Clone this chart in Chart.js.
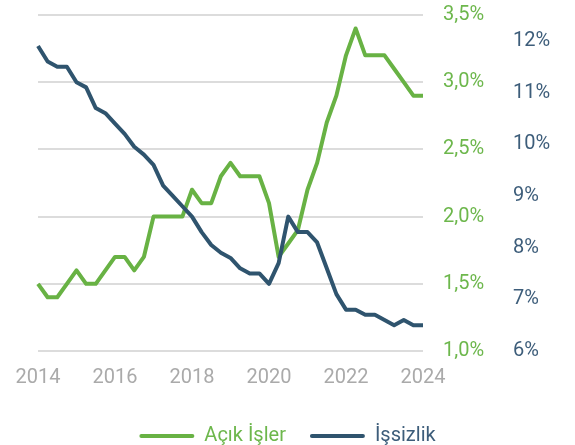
<!DOCTYPE html>
<html>
<head>
<meta charset="utf-8">
<script src="https://cdn.jsdelivr.net/npm/chart.js@4.4.1/dist/chart.umd.min.js"></script>
<style>
  html, body { margin: 0; padding: 0; background: #ffffff; }
  #wrap { width: 575px; height: 445px; }
</style>
</head>
<body>
<div id="wrap"><canvas id="chart"></canvas></div>
<script>
const quarters = [
  "2014-Q1", "2014-Q2", "2014-Q3", "2014-Q4",
  "2015-Q1", "2015-Q2", "2015-Q3", "2015-Q4",
  "2016-Q1", "2016-Q2", "2016-Q3", "2016-Q4",
  "2017-Q1", "2017-Q2", "2017-Q3", "2017-Q4",
  "2018-Q1", "2018-Q2", "2018-Q3", "2018-Q4",
  "2019-Q1", "2019-Q2", "2019-Q3", "2019-Q4",
  "2020-Q1", "2020-Q2", "2020-Q3", "2020-Q4",
  "2021-Q1", "2021-Q2", "2021-Q3", "2021-Q4",
  "2022-Q1", "2022-Q2", "2022-Q3", "2022-Q4",
  "2023-Q1", "2023-Q2", "2023-Q3", "2023-Q4",
  "2024-Q1"
];

// Açık İşler (%), yeşil eksen
const openJobs = [
  1.5, 1.4, 1.4, 1.5, 1.6, 1.5, 1.5, 1.6,
  1.7, 1.7, 1.6, 1.7, 2.0, 2.0, 2.0, 2.0,
  2.2, 2.1, 2.1, 2.3, 2.4, 2.3, 2.3, 2.3,
  2.1, 1.7, 1.8, 1.9, 2.2, 2.4, 2.7, 2.9,
  3.2, 3.4, 3.2, 3.2, 3.2, 3.1, 3.0, 2.9,
  2.9
];

// İşsizlik (%), lacivert eksen
const unemployment = [
  11.9, 11.6, 11.5, 11.5, 11.2, 11.1, 10.7, 10.6,
  10.4, 10.2, 9.95, 9.8, 9.6, 9.2, 9.0, 8.8,
  8.6, 8.3, 8.05, 7.9, 7.8, 7.6, 7.5, 7.5,
  7.3, 7.7, 8.6, 8.3, 8.3, 8.1, 7.6, 7.1,
  6.8, 6.8, 6.7, 6.7, 6.6, 6.5, 6.6, 6.5,
  6.5
];

const yearLabels = ["2014", "2016", "2018", "2020", "2022", "2024"];

const green = "#68b244";
const greenText = "#6db74c";
const blue = "#2f546e";
const blueText = "#3d5d7a";
const tickFont = { family: "Roboto", size: 20, weight: "normal" };

const ctx = document.getElementById("chart").getContext("2d");

new Chart(ctx, {
  type: "line",
  data: {
    labels: quarters,
    datasets: [
      {
        label: "Açık İşler",
        data: openJobs,
        borderColor: green,
        backgroundColor: green,
        borderWidth: 4,
        pointRadius: 0,
        tension: 0,
        borderJoinStyle: "round",
        yAxisID: "y",
        order: 1
      },
      {
        label: "İşsizlik",
        data: unemployment,
        borderColor: blue,
        backgroundColor: blue,
        borderWidth: 4,
        pointRadius: 0,
        tension: 0,
        borderJoinStyle: "round",
        yAxisID: "y2",
        order: 0
      }
    ]
  },
  options: {
    responsive: true,
    maintainAspectRatio: false,
    animation: false,
    layout: { padding: { left: 22, right: 22, top: 15, bottom: -11 } },
    scales: {
      x: {
        grid: { display: false, drawTicks: false },
        border: { display: false },
        offset: false,
        afterFit: (axis) => {
          axis.height = 51;
          axis.paddingLeft = 38;
        },
        ticks: {
          autoSkip: false,
          maxRotation: 0,
          padding: 15,
          color: "#aaaaaa",
          font: tickFont,
          callback: function (value) {
            const lab = this.getLabelForValue(value);
            const year = lab.slice(0, 4);
            return lab.endsWith("Q1") && yearLabels.includes(year) ? year : null;
          }
        }
      },
      y: {
        position: "right",
        min: 1.0,
        max: 3.5,
        grid: { color: "#dcdcdc", lineWidth: 2, drawTicks: false },
        border: { display: false },
        afterFit: (axis) => {
          axis.width = 70;
          axis.paddingTop = 0;
          axis.paddingBottom = 0;
        },
        ticks: {
          stepSize: 0.5,
          padding: 20,
          color: greenText,
          font: tickFont,
          callback: (v) => v.toFixed(1).replace(".", ",") + "%"
        }
      },
      y2: {
        position: "right",
        min: 6,
        max: 12.5,
        grid: { display: false, drawTicks: false },
        border: { display: false },
        afterFit: (axis) => {
          axis.width = 60;
          axis.paddingTop = 0;
          axis.paddingBottom = 0;
        },
        ticks: {
          stepSize: 1,
          padding: 20,
          color: blueText,
          font: tickFont,
          callback: (v) => (Number.isInteger(v) ? v + "%" : null)
        }
      }
    },
    plugins: {
      tooltip: { enabled: false },
      legend: {
        position: "bottom",
        labels: {
          boxWidth: 55,
          boxHeight: 4,
          useBorderRadius: true,
          borderRadius: 2,
          padding: 24,
          font: { family: "Roboto", size: 20, weight: "normal" },
          sort: (a, b) => a.datasetIndex - b.datasetIndex,
          generateLabels: (chart) => {
            const items = Chart.defaults.plugins.legend.labels.generateLabels(chart);
            return items.map((it) => {
              const c = it.datasetIndex === 0 ? greenText : blueText;
              return Object.assign(it, { lineWidth: 0, fontColor: c });
            });
          }
        }
      }
    }
  }
});
</script>
</body>
</html>
